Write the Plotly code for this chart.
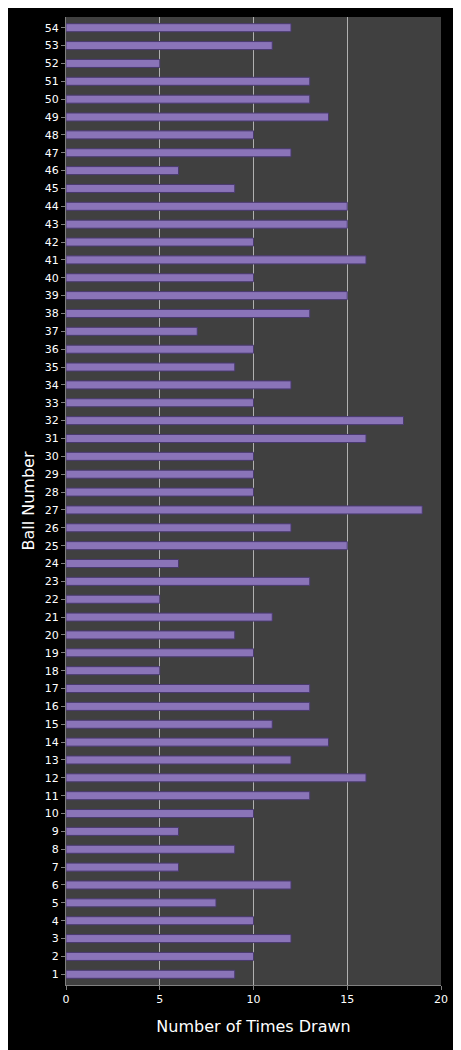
import plotly.graph_objects as go

balls = [str(i) for i in range(1, 55)]
counts = [9,10,12,10,8,12,6,9,6,10,13,16,12,14,11,13,13,5,10,9,11,5,13,6,15,12,19,10,10,10,
          16,18,10,12,9,10,7,13,15,10,16,10,15,15,9,6,12,10,14,13,13,5,11,12]

fig = go.Figure(go.Bar(
    x=counts, y=balls, orientation="h", width=0.45,
    marker=dict(color="#8a74b8", line=dict(color="#4a3a70", width=1)),
))
fig.update_layout(
    width=453, height=1042, paper_bgcolor="black", plot_bgcolor="#404040",
    margin=dict(l=58, r=20, t=9, b=65), showlegend=False,
    font=dict(family="DejaVu Sans", color="white", size=11),
    bargap=0.5,
)
fig.update_xaxes(range=[0, 20], tickvals=[0,5,10,15,20], showgrid=True,
                 gridcolor="#b0b0b0", gridwidth=1, zeroline=False,
                 title=dict(text="Number of Times Drawn", font=dict(size=16)),
                 showline=True, linecolor="#808080", ticks="outside", ticklen=4, tickcolor="#808080")
fig.update_yaxes(type="category", categoryorder="array", categoryarray=balls,
                 showgrid=False, title=dict(text="Ball Number", font=dict(size=16), standoff=6),
                 showline=True, linecolor="#808080", ticks="outside", ticklen=4, tickcolor="#808080",
                 range=[-0.6, 53.6])
fig.write_html("out.html")
